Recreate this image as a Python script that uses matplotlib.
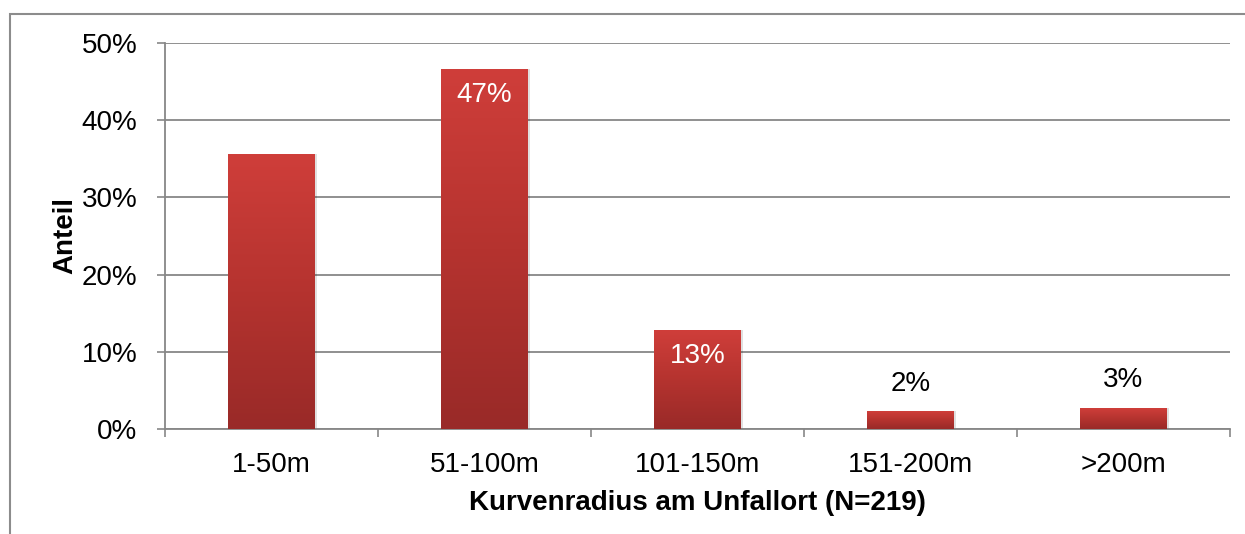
import numpy as np
import matplotlib
matplotlib.use("Agg")
import matplotlib.pyplot as plt
from matplotlib.patches import Rectangle
from matplotlib.colors import LinearSegmentedColormap

categories = ["1-50m", "51-100m", "101-150m", "151-200m", ">200m"]
values = [35.6, 46.6, 12.8, 2.3, 2.7]
labels = ["", "47%", "13%", "2%", "3%"]
label_inside = [False, True, True, False, False]
yticks = [0, 10, 20, 30, 40, 50]
ytick_labels = ["0%", "10%", "20%", "30%", "40%", "50%"]

plt.rcParams['font.family'] = ['Liberation Sans', 'DejaVu Sans']

fig = plt.figure(figsize=(12.45, 5.34), dpi=100)
ax = fig.add_axes([165/1245, 1-429/534, (1230-165)/1245, (429-43)/534])

grey = "#878787"
x = np.arange(len(categories))
bars = ax.bar(x, values, width=0.405, color="none", edgecolor="none", zorder=3)

cmap = LinearSegmentedColormap.from_list("redgrad", ["#992A28", "#B5332F", "#CF3E3A"])
grad = np.linspace(0, 1, 256).reshape(-1, 1)
for b in bars:
    x0, y0 = b.get_x(), b.get_y()
    w, h = b.get_width(), b.get_height()
    sh = Rectangle((x0 + 0.012, y0), w, h, facecolor="#000000", alpha=0.12,
                   edgecolor="none", zorder=2.5)
    ax.add_patch(sh)
    im = ax.imshow(grad, cmap=cmap, origin="lower", aspect="auto",
                   extent=(x0, x0 + w, y0, y0 + h), zorder=3)
    im.set_clip_path(b)

for xi, v, lab, inside in zip(x, values, labels, label_inside):
    if not lab:
        continue
    if inside:
        ax.text(xi, v - 1.6, lab, ha="center", va="top", color="white", fontsize=20, zorder=5)
    else:
        ax.text(xi, v + 1.9, lab, ha="center", va="bottom", color="black", fontsize=20, zorder=5)

ax.set_xlim(-0.5, len(categories) - 0.5)
ax.set_ylim(0, 50)
ax.set_yticks(yticks)
ax.set_yticklabels(ytick_labels, fontsize=20)
ax.set_xticks(x)
ax.set_xticklabels(categories, fontsize=20)
ax.set_xticks(np.arange(-0.5, len(categories), 1.0), minor=True)
ax.tick_params(axis="x", which="major", length=0, pad=16.5)
ax.tick_params(axis="x", which="minor", length=6, width=1.2, color=grey, direction="out")
ax.tick_params(axis="y", which="major", length=6, width=1.2, color=grey, direction="out", pad=14)

ax.yaxis.grid(True, color=grey, linewidth=1.3, zorder=1)
ax.set_axisbelow(True)
for s in ["top", "right"]:
    ax.spines[s].set_visible(False)
for s in ["left", "bottom"]:
    ax.spines[s].set_color(grey)
    ax.spines[s].set_linewidth(1.3)

ax.set_xlabel("Kurvenradius am Unfallort (N=219)", fontsize=20, fontweight="bold", labelpad=9)
ax.set_ylabel("Anteil", fontsize=20, fontweight="bold", labelpad=2)

fig.add_artist(Rectangle((10/1245, -0.1), 1.2, 1 - 14/534 + 0.1, transform=fig.transFigure,
                         facecolor="none", edgecolor="#8C8C8C", linewidth=1.5))

fig.savefig("out.png", dpi=100)
